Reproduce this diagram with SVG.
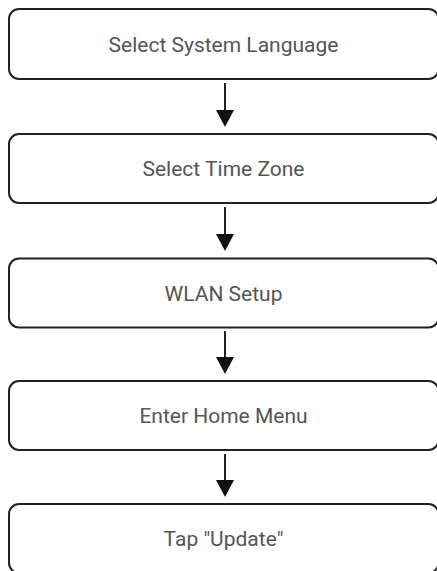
<svg xmlns="http://www.w3.org/2000/svg" width="437" height="571" viewBox="0 0 437 571">
<style>
.box{fill:#fff;stroke:#222;stroke-width:2}
.lbl{font-family:Roboto,"Liberation Sans",sans-serif;font-size:21px;fill:#555;text-anchor:middle}
.conn{stroke:#222;stroke-width:2;fill:none}
.head{fill:#111}
</style>
<rect width="437" height="571" fill="#fff"/>
<g id="connectors">
<line class="conn" x1="225" y1="83" x2="225" y2="110"/><path class="head" d="M216,110 L234,110 L225,127 Z"/>
<line class="conn" x1="225" y1="207" x2="225" y2="234"/><path class="head" d="M216,234 L234,234 L225,251 Z"/>
<line class="conn" x1="225" y1="331" x2="225" y2="357"/><path class="head" d="M216,357 L234,357 L225,374 Z"/>
<line class="conn" x1="225" y1="454" x2="225" y2="480"/><path class="head" d="M216,480 L234,480 L225,497 Z"/>
</g>
<g id="n1"><rect class="box" x="9" y="9" width="429.5" height="70" rx="10"/><text class="lbl" x="223.5" y="51.5">Select System Language</text></g>
<g id="n2"><rect class="box" x="9" y="134" width="429.5" height="69" rx="10"/><text class="lbl" x="223.5" y="176">Select Time Zone</text></g>
<g id="n3"><rect class="box" x="9" y="258.5" width="429.5" height="69" rx="10"/><text class="lbl" x="223.5" y="300.5">WLAN Setup</text></g>
<g id="n4"><rect class="box" x="9" y="381" width="429.5" height="69" rx="10"/><text class="lbl" x="223.5" y="423">Enter Home Menu</text></g>
<g id="n5"><rect class="box" x="9" y="504" width="429.5" height="69" rx="10"/><text class="lbl" x="223.5" y="546">Tap "Update"</text></g>
</svg>
